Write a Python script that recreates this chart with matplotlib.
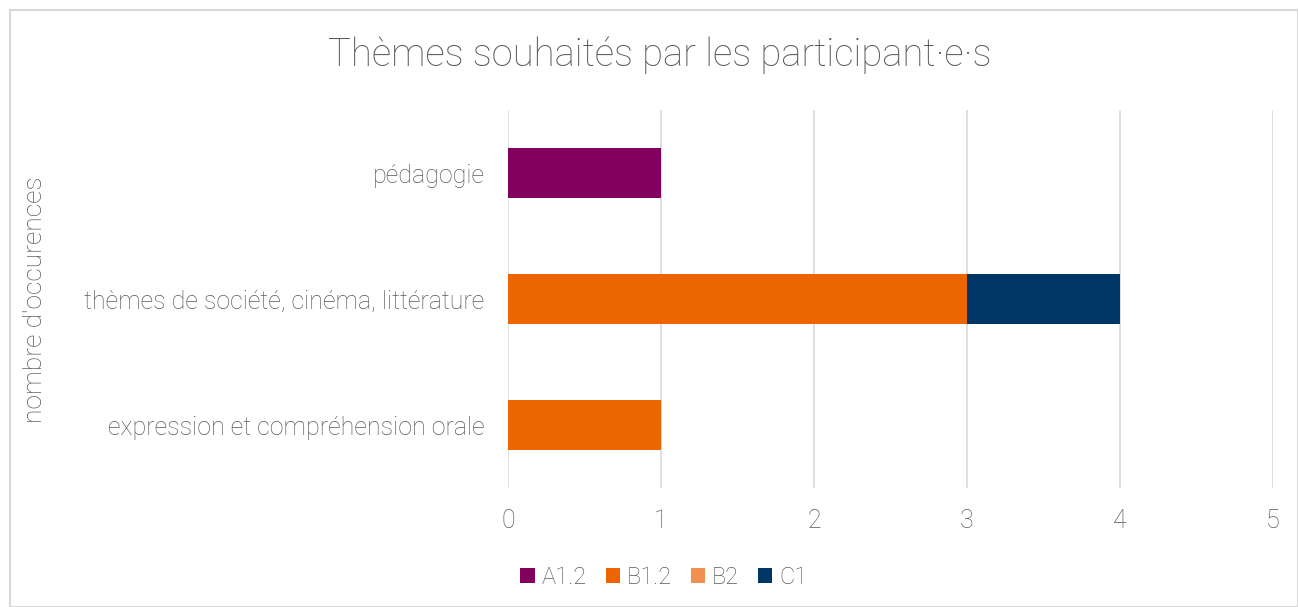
import numpy as np
import matplotlib.pyplot as plt
from matplotlib.patches import Rectangle

categories = ['expression et compréhension orale',
              'thèmes de société, cinéma, littérature',
              'pédagogie']
levels = ['A1.2', 'B1.2', 'B2', 'C1']
a12 = [0, 0, 1]
b12 = [1, 3, 0]
b2 = [0, 0, 0]
c1 = [0, 1, 0]
colors = ['#82005E', '#EC6500', '#F0914F', '#003666']

plt.rcParams['font.family'] = ['Roboto', 'DejaVu Sans']
plt.rcParams['font.weight'] = 'light'
txt = '#595959'

fig = plt.figure(figsize=(12.98, 6.07), dpi=100)
fig.patches.append(Rectangle((10 / 1298, 0), 1 - 10 / 1298, 1 - 10 / 607,
                             transform=fig.transFigure, fill=False,
                             edgecolor='#D9D9D9', linewidth=1.5))
ax = fig.add_axes([508 / 1298, 1 - 488 / 607, 765 / 1298, 378 / 607])

y = np.arange(len(categories))
left = np.zeros(len(categories))
for name, vals, col in zip(levels, [a12, b12, b2, c1], colors):
    ax.barh(y, vals, left=left, height=0.4, color=col, label=name, zorder=3)
    left += np.array(vals)

ax.set_xlim(0, 5)
ax.set_ylim(-0.5, 2.5)
ax.set_yticks(y)
ax.set_yticklabels(categories, fontsize=18, color=txt)
ax.set_xticks(range(6))
ax.tick_params(axis='x', labelsize=18, colors=txt, length=0, pad=15)
ax.tick_params(axis='y', length=0, pad=17)
ax.grid(axis='x', color='#D9D9D9', linewidth=1.2, zorder=0)
for s in ax.spines.values():
    s.set_visible(False)

fig.text(35 / 1298, 1 - 300 / 607, "nombre d'occurences", rotation=90,
         ha='center', va='center', fontsize=19, color=txt)
fig.text(660 / 1298, 1 - 55 / 607, 'Thèmes souhaités par les participant·e·s',
         ha='center', va='center', fontsize=27.5, color=txt)

fig.legend(loc='center', bbox_to_anchor=(664 / 1298, 1 - 577 / 607), ncol=4,
           frameon=False, fontsize=17, labelcolor=txt, handlelength=0.6,
           handleheight=0.6, handletextpad=0.3, columnspacing=0.8)

fig.savefig('out.png', dpi=100, facecolor='white')
